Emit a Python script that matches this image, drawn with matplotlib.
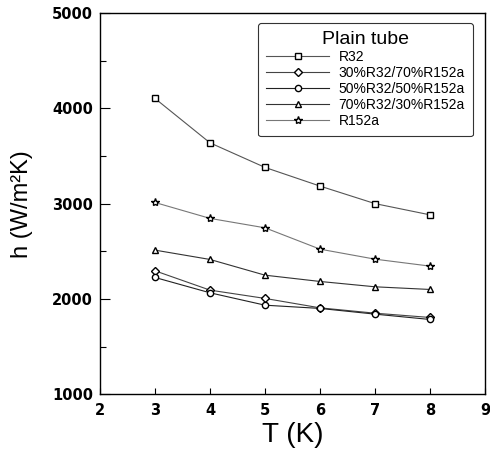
import matplotlib
matplotlib.use('Agg')
import matplotlib.pyplot as plt
from matplotlib.ticker import MultipleLocator, FixedLocator

plt.rcParams['font.family'] = ['Liberation Sans', 'DejaVu Sans']

T = [3, 4, 5, 6, 7, 8]
h_r32 = [4104, 3638, 3380, 3184, 3000, 2882]
h_30 = [2295, 2092, 2005, 1906, 1850, 1805]
h_50 = [2225, 2064, 1934, 1900, 1840, 1784]
h_70 = [2512, 2414, 2249, 2183, 2127, 2099]
h_r152a = [3012, 2845, 2746, 2522, 2417, 2344]

labels = ['R32', '30%R32/70%R152a', '50%R32/50%R152a', '70%R32/30%R152a', 'R152a']
series = [h_r32, h_30, h_50, h_70, h_r152a]
markers = ['s', 'D', 'o', '^', '*']
msizes = [4.5, 4, 4.5, 4.5, 6]
lcolors = ['#555555', '#444444', '#222222', '#333333', '#777777']

fig = plt.figure(figsize=(4.9, 4.51), dpi=100)
ax = fig.add_axes([0.204, 0.126, 0.786, 0.845])

for y, lab, m, ms, c in zip(series, labels, markers, msizes, lcolors):
    ax.plot(T, y, color=c, linewidth=0.8, marker=m, markersize=ms,
            markerfacecolor='white', markeredgecolor='black', markeredgewidth=1.0,
            label=lab)

ax.set_xlim(2, 9)
ax.set_ylim(1000, 5000)
ax.xaxis.set_major_locator(MultipleLocator(1))
ax.xaxis.set_minor_locator(FixedLocator([2, 4, 6, 8]))
ax.yaxis.set_major_locator(MultipleLocator(1000))
ax.yaxis.set_minor_locator(MultipleLocator(500))
ax.tick_params(axis='x', which='major', direction='in', length=4, width=0.8, pad=6)
ax.tick_params(axis='x', which='minor', direction='in', length=7, width=0.8)
ax.tick_params(axis='y', which='major', direction='in', length=7, width=0.8, pad=5)
ax.tick_params(axis='y', which='minor', direction='in', length=4, width=0.8)
for lab in ax.get_xticklabels() + ax.get_yticklabels():
    lab.set_fontweight('bold')
    lab.set_fontfamily('DejaVu Sans')
    lab.set_fontsize(10.5)

ax.set_xlabel('T (K)', fontsize=20, labelpad=3)
ax.set_ylabel('h (W/m²K)', fontsize=17, labelpad=14)
for s in ax.spines.values():
    s.set_linewidth(1.0)

leg = ax.legend(loc='upper right', bbox_to_anchor=(0.969, 0.974), borderaxespad=0,
                fontsize=10, title='Plain tube', title_fontsize=14, handlelength=4.5,
                labelspacing=0.14, handletextpad=0.7, borderpad=0.6,
                fancybox=True, framealpha=1, edgecolor='#333333')
leg.get_frame().set_linewidth(0.8)

fig.savefig('out.png', dpi=100)
